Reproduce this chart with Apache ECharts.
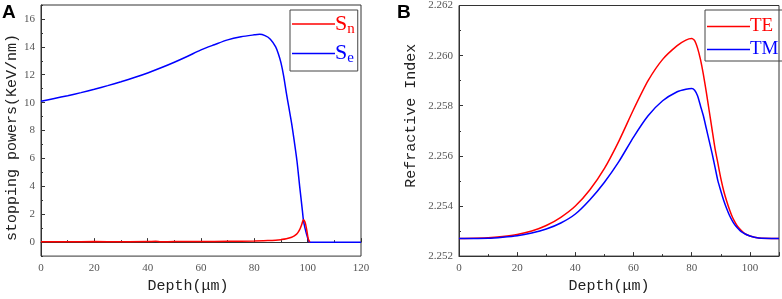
<!DOCTYPE html>
<html>
<head>
<meta charset="utf-8">
<script src="https://cdn.jsdelivr.net/npm/echarts@6/dist/echarts.min.js"></script>
<style>
  html, body { margin: 0; padding: 0; background: #fff; }
  #main { width: 782px; height: 299px; }
</style>
</head>
<body>
<div id="main"></div>
<script>
// panel A: stopping powers
var seDepth = [0, 5, 10, 15, 20, 25, 30, 35, 40, 45, 50, 55, 60, 65, 70, 75, 80, 82, 84, 86, 88, 89, 90, 91, 92, 93, 94, 95, 96, 97, 98, 98.4, 99, 100, 100.7, 105, 110, 120];
var seValue = [10.1, 10.3, 10.5, 10.72, 10.96, 11.22, 11.5, 11.8, 12.13, 12.5, 12.9, 13.33, 13.78, 14.15, 14.5, 14.72, 14.86, 14.9, 14.8, 14.55, 14.0, 13.5, 12.85, 11.9, 10.7, 9.6, 8.5, 7.2, 5.8, 4.0, 2.3, 1.6, 1.0, 0.3, 0, 0, 0, 0];
var snDepth = [0, 10, 20, 30, 40, 43, 45, 50, 60, 70, 80, 85, 88, 90, 92, 94, 95, 96, 97, 97.8, 98.4, 99, 99.6, 100.2, 100.8];
var snValue = [0.03, 0.02, 0.04, 0.03, 0.04, 0.07, 0.03, 0.04, 0.05, 0.06, 0.08, 0.11, 0.14, 0.18, 0.24, 0.35, 0.45, 0.6, 0.9, 1.28, 1.6, 1.45, 0.93, 0.25, 0];
var yTicksA = [0, 2, 4, 6, 8, 10, 12, 14, 16];
var yMinorA = [-1, 1, 3, 5, 7, 9, 11, 13, 15, 17];

// panel B: refractive index
var teDepth = [0, 10, 15, 20, 25, 30, 35, 40, 45, 50, 55, 60, 65, 70, 75, 78, 80, 81, 82, 83, 84, 85, 86, 87, 88, 89, 90, 91, 92, 93, 94, 95, 96, 98, 100, 103, 110];
var teValue = [2.2527, 2.25273, 2.25278, 2.25286, 2.253, 2.25322, 2.25355, 2.254, 2.25465, 2.2555, 2.2566, 2.25785, 2.259, 2.25985, 2.2604, 2.26062, 2.26068, 2.2606, 2.2603, 2.25985, 2.25925, 2.25855, 2.2578, 2.25705, 2.2563, 2.2557, 2.2551, 2.2546, 2.2542, 2.25385, 2.25355, 2.25333, 2.25315, 2.25292, 2.2528, 2.25272, 2.2527];
var tmDepth = [0, 10, 15, 20, 25, 30, 35, 40, 45, 50, 55, 60, 65, 70, 75, 78, 80, 81, 82, 83, 84, 85, 86, 87, 88, 89, 90, 91, 92, 93, 94, 95, 97, 100, 103, 110];
var tmValue = [2.2527, 2.25271, 2.25275, 2.25281, 2.25292, 2.25308, 2.25332, 2.25368, 2.25425, 2.25495, 2.25578, 2.25675, 2.2576, 2.2582, 2.25856, 2.25866, 2.25869, 2.25862, 2.2584, 2.258, 2.2576, 2.2571, 2.2566, 2.2561, 2.25555, 2.255, 2.2546, 2.25422, 2.2539, 2.25362, 2.2534, 2.25322, 2.25298, 2.2528, 2.25272, 2.2527];

function pairs(xs, ys) {
    return xs.map(function (x, i) { return [x, ys[i]]; });
}

var axisColor = '#333';
var labelStyle = { fontFamily: 'Liberation Serif', fontSize: 11, color: '#555' };
var monoFont = 'Liberation Mono, Noto Sans CJK SC';

var myChart = echarts.init(document.getElementById('main'));
option = {
    animation: false,
    graphic: [
        { type: 'text', left: 2, top: 3, style: { text: 'A', font: 'bold 19px Liberation Sans', fill: '#000' } },
        { type: 'text', left: 397, top: 3, style: { text: 'B', font: 'bold 19px Liberation Sans', fill: '#000' } }
    ],
    grid: [
        { left: 41, top: 5, width: 320, height: 257, show: true, borderColor: axisColor, borderWidth: 1 },
        { left: 459, top: 5, width: 320, height: 257, show: true, borderColor: axisColor, borderWidth: 1 }
    ],
    legend: [
        {
            orient: 'vertical',
            left: 290, top: 10,
            icon: 'rect', itemWidth: 43, itemHeight: 1.5, itemGap: 6,
            padding: [3, 3, 5, 2],
            borderColor: '#444', borderWidth: 1,
            data: ['Sn', 'Se'],
            formatter: function (name) {
                return name === 'Sn' ? '{r|S}{rs|n}' : '{b|S}{bs|e}';
            },
            textStyle: {
                padding: [0, 0, 0, -5],
                rich: {
                    r: { fontFamily: 'Liberation Serif', fontSize: 22, color: '#ff0000' },
                    rs: { fontFamily: 'Liberation Serif', fontSize: 15, color: '#ff0000', padding: [10, 0, 0, 0] },
                    b: { fontFamily: 'Liberation Serif', fontSize: 22, color: '#0000ff' },
                    bs: { fontFamily: 'Liberation Serif', fontSize: 15, color: '#0000ff', padding: [10, 0, 0, 0] }
                }
            }
        },
        {
            orient: 'vertical',
            left: 705, top: 10,
            icon: 'rect', itemWidth: 43, itemHeight: 1.5, itemGap: 4,
            padding: [7, 4, 2, 2],
            borderColor: '#444', borderWidth: 1,
            data: [
                { name: 'TE', textStyle: { color: '#ff0000' } },
                { name: 'TM', textStyle: { color: '#0000ff' } }
            ],
            textStyle: { fontFamily: 'Liberation Serif', fontSize: 19, padding: [0, 0, 0, -5] }
        }
    ],
    xAxis: [
        {
            type: 'value', gridIndex: 0, min: 0, max: 120, interval: 20,
            name: 'Depth(μm)', nameLocation: 'middle', nameGap: 20,
            nameTextStyle: { fontFamily: monoFont, fontSize: 15, color: '#222', padding: [0, 26, 0, 0] },
            axisLine: { lineStyle: { color: axisColor } },
            axisTick: { inside: true, length: 4, lineStyle: { color: axisColor } },
            minorTick: { show: true, splitNumber: 2, length: 2, lineStyle: { color: axisColor } },
            splitLine: { show: false },
            axisLabel: Object.assign({ margin: 7 }, labelStyle)
        },
        {
            type: 'value', gridIndex: 1, min: 0, max: 110, interval: 20,
            name: 'Depth(μm)', nameLocation: 'middle', nameGap: 20,
            nameTextStyle: { fontFamily: monoFont, fontSize: 15, color: '#222', padding: [0, 20, 0, 0] },
            axisLine: { lineStyle: { color: axisColor } },
            axisTick: { inside: true, length: 4, lineStyle: { color: axisColor } },
            minorTick: { show: true, splitNumber: 2, length: 2, lineStyle: { color: axisColor } },
            splitLine: { show: false },
            axisLabel: Object.assign({ margin: 7, showMaxLabel: false }, labelStyle)
        }
    ],
    yAxis: [
        {
            type: 'value', gridIndex: 0, position: 'left', min: -1, max: 17,
            name: 'stopping powers(KeV/nm)', nameLocation: 'middle', nameGap: 21,
            nameTextStyle: { fontFamily: monoFont, fontSize: 15, color: '#222', padding: [0, 14, 0, 0] },
            axisLine: { lineStyle: { color: axisColor } },
            axisTick: { inside: true, length: 4, customValues: yTicksA, lineStyle: { color: axisColor } },
            splitLine: { show: false },
            axisLabel: Object.assign({ margin: 6, customValues: yTicksA }, labelStyle)
        },
        {
            type: 'value', gridIndex: 0, position: 'left', min: -1, max: 17,
            axisLine: { show: false },
            axisTick: { inside: true, length: 2, customValues: yMinorA, lineStyle: { color: axisColor } },
            splitLine: { show: false },
            axisLabel: { show: false }
        },
        {
            type: 'value', gridIndex: 1, min: 2.252, max: 2.262, interval: 0.002,
            name: 'Refractive Index', nameLocation: 'middle', nameGap: 40,
            nameTextStyle: { fontFamily: monoFont, fontSize: 15, color: '#222', padding: [0, 0, 0, 30] },
            axisLine: { lineStyle: { color: axisColor } },
            axisTick: { inside: true, length: 4, lineStyle: { color: axisColor } },
            minorTick: { show: true, splitNumber: 2, length: 2, lineStyle: { color: axisColor } },
            splitLine: { show: false },
            axisLabel: Object.assign({ margin: 6, formatter: function (v) { return v.toFixed(3); } }, labelStyle)
        }
    ],
    series: [
        {
            name: 'Se', type: 'line', xAxisIndex: 0, yAxisIndex: 0, symbol: 'none', smooth: 0.3,
            lineStyle: { color: '#0000ff', width: 1.5 }, itemStyle: { color: '#0000ff' },
            data: pairs(seDepth, seValue)
        },
        {
            name: 'Sn', type: 'line', xAxisIndex: 0, yAxisIndex: 0, symbol: 'none', smooth: 0.3, z: 3,
            lineStyle: { color: '#ff0000', width: 1.5 }, itemStyle: { color: '#ff0000' },
            data: pairs(snDepth, snValue)
        },
        {
            name: 'TE', type: 'line', xAxisIndex: 1, yAxisIndex: 2, symbol: 'none', smooth: 0.2,
            lineStyle: { color: '#ff0000', width: 1.5 }, itemStyle: { color: '#ff0000' },
            data: pairs(teDepth, teValue)
        },
        {
            name: 'TM', type: 'line', xAxisIndex: 1, yAxisIndex: 2, symbol: 'none', smooth: 0.2,
            lineStyle: { color: '#0000ff', width: 1.5 }, itemStyle: { color: '#0000ff' },
            data: pairs(tmDepth, tmValue)
        }
    ]
};
myChart.setOption(option);
</script>
</body>
</html>
